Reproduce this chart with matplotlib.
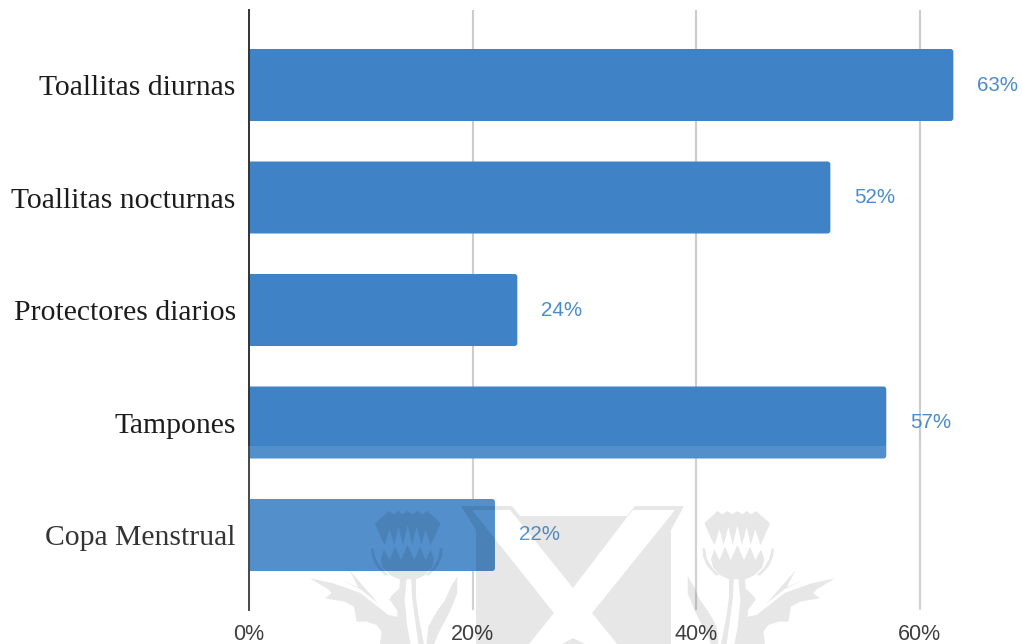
import matplotlib
matplotlib.use('Agg')
import matplotlib.pyplot as plt
from matplotlib.patches import FancyBboxPatch, Polygon, Rectangle

categories = ['Toallitas diurnas', 'Toallitas nocturnas', 'Protectores diarios', 'Tampones', 'Copa Menstrual']
values = [63, 52, 24, 57, 22]
x_ticks = [0, 20, 40, 60]

BAR_COLOR = '#3f83c6'
WIDTH, HEIGHT = 1022, 644

# Outlines of the background logo, in pixels
x_shapes = [
    [(461, 506), (512, 506), (520, 516), (515, 516), (510, 510), (472, 510)],
    [(635, 506), (684, 506), (675, 510), (633, 510), (628, 516), (627, 516)],
    [(515, 516), (628, 516), (573, 588)],
    [(461, 506), (472, 510), (554, 613), (529, 644), (476, 644), (476, 530)],
    [(684, 506), (671, 530), (671, 644), (617, 644), (592, 613), (675, 510)],
    [(573, 638), (562, 644), (585, 644)],
]
crown = [(58, 70), (97, 33), (112, 43), (127, 33), (142, 43), (157, 33), (172, 43), (185, 33), (198, 43), (213, 33),
         (255, 70), (236, 115), (226, 135), (211, 88), (197, 135), (185, 80), (171, 135), (157, 76), (143, 135),
         (130, 80), (116, 135), (103, 88), (89, 135), (78, 115)]
bowl = [(78, 178), (88, 148), (103, 180), (120, 140), (137, 180), (157, 135), (177, 180), (195, 140), (211, 180),
        (228, 148), (238, 178), (232, 202), (208, 226), (182, 238), (132, 238), (106, 226), (84, 202)]
left_arc = [(52, 145), (60, 145), (66, 178), (82, 204), (104, 226), (92, 226), (66, 198), (54, 170)]
right_arc = [(267, 145), (260, 145), (252, 178), (236, 204), (214, 226), (226, 226), (252, 198), (264, 170)]
stem = [(132, 238), (146, 238), (144, 290), (136, 350), (125, 432), (108, 432), (124, 350), (132, 290)]
outer_leaf = [(160, 238), (180, 238), (182, 265), (205, 287), (212, 298), (188, 332), (188, 350), (215, 345), (240, 325),
              (300, 278), (380, 250), (450, 235), (395, 268), (385, 280), (405, 295), (345, 305), (318, 320), (310, 365),
              (280, 365), (250, 375), (235, 395), (240, 432), (148, 432), (158, 380), (166, 300)]
spike = [(245, 310), (332, 210), (305, 262), (360, 238), (298, 268)]
inner_leaf = [(8, 228), (28, 262), (45, 300), (72, 338), (95, 380), (100, 432), (78, 432), (62, 395), (30, 335), (8, 280)]


def draw_thistle(ax, center, side):
    # Drawn around x = 158 and flipped for the left-hand thistle
    for shape in [crown, bowl, left_arc, right_arc, stem, outer_leaf, spike, inner_leaf]:
        pts = [(center + side * (x - 158) / 3, 500 + y / 3) for x, y in shape]
        ax.add_patch(Polygon(pts, closed=True, fc='black', ec='none', alpha=0.095))


fig = plt.figure(figsize=(WIDTH / 100, HEIGHT / 100), dpi=100)
ax = fig.add_axes([249 / WIDTH, 1 - 610 / HEIGHT, (WIDTH - 249) / WIDTH, 600 / HEIGHT])
ax.set_xlim(0, (WIDTH - 249) / 11.18)
ax.set_ylim(4 + 75 / 112.5, -75 / 112.5)

# Rounded bars, started left of the axis so only the right corners show
for i, v in enumerate(values):
    ax.add_patch(FancyBboxPatch((-1, i - 0.32), v + 1, 0.64, boxstyle='round,pad=0,rounding_size=0.25',
                                mutation_aspect=0.0994, fc=BAR_COLOR, ec='none', zorder=3))
    ax.annotate(f'{v}%', (v, i), xytext=(17, 0), textcoords='offset points', va='center', ha='left',
                fontsize=14.8, family='Liberation Sans', color='#4a8ccb', zorder=4)

ax.set_yticks(range(len(categories)))
ax.set_yticklabels(categories, family='Liberation Serif', fontsize=21.3, color='#1c1c1c')
ax.set_xticks(x_ticks)
ax.set_xticklabels([f'{t}%' for t in x_ticks], family='Liberation Sans', fontsize=15.5, color='#2a2a2a')
ax.tick_params(axis='y', length=0, pad=9.5)
ax.tick_params(axis='x', length=0, pad=10)
ax.grid(True, axis='x', color='#cccccc', lw=1.5, zorder=1)
ax.set_axisbelow(True)
for name in ['top', 'right', 'bottom']:
    ax.spines[name].set_visible(False)
ax.spines['left'].set_color('#333333')
ax.spines['left'].set_linewidth(1.4)
ax.spines['left'].set_zorder(5)

# Logo layer on top of everything, in pixel coordinates
logo = fig.add_axes([0, 0, 1, 1], facecolor='none')
logo.set_xlim(0, WIDTH)
logo.set_ylim(HEIGHT, 0)
logo.axis('off')
logo.add_patch(Rectangle((0, 446), WIDTH, HEIGHT - 446, fc='white', ec='none', alpha=0.1))
for shape in x_shapes:
    logo.add_patch(Polygon(shape, closed=True, fc='black', ec='none', alpha=0.095))
draw_thistle(logo, 737.7, 1)
draw_thistle(logo, 407.3, -1)

fig.savefig('out.png', dpi=100)
